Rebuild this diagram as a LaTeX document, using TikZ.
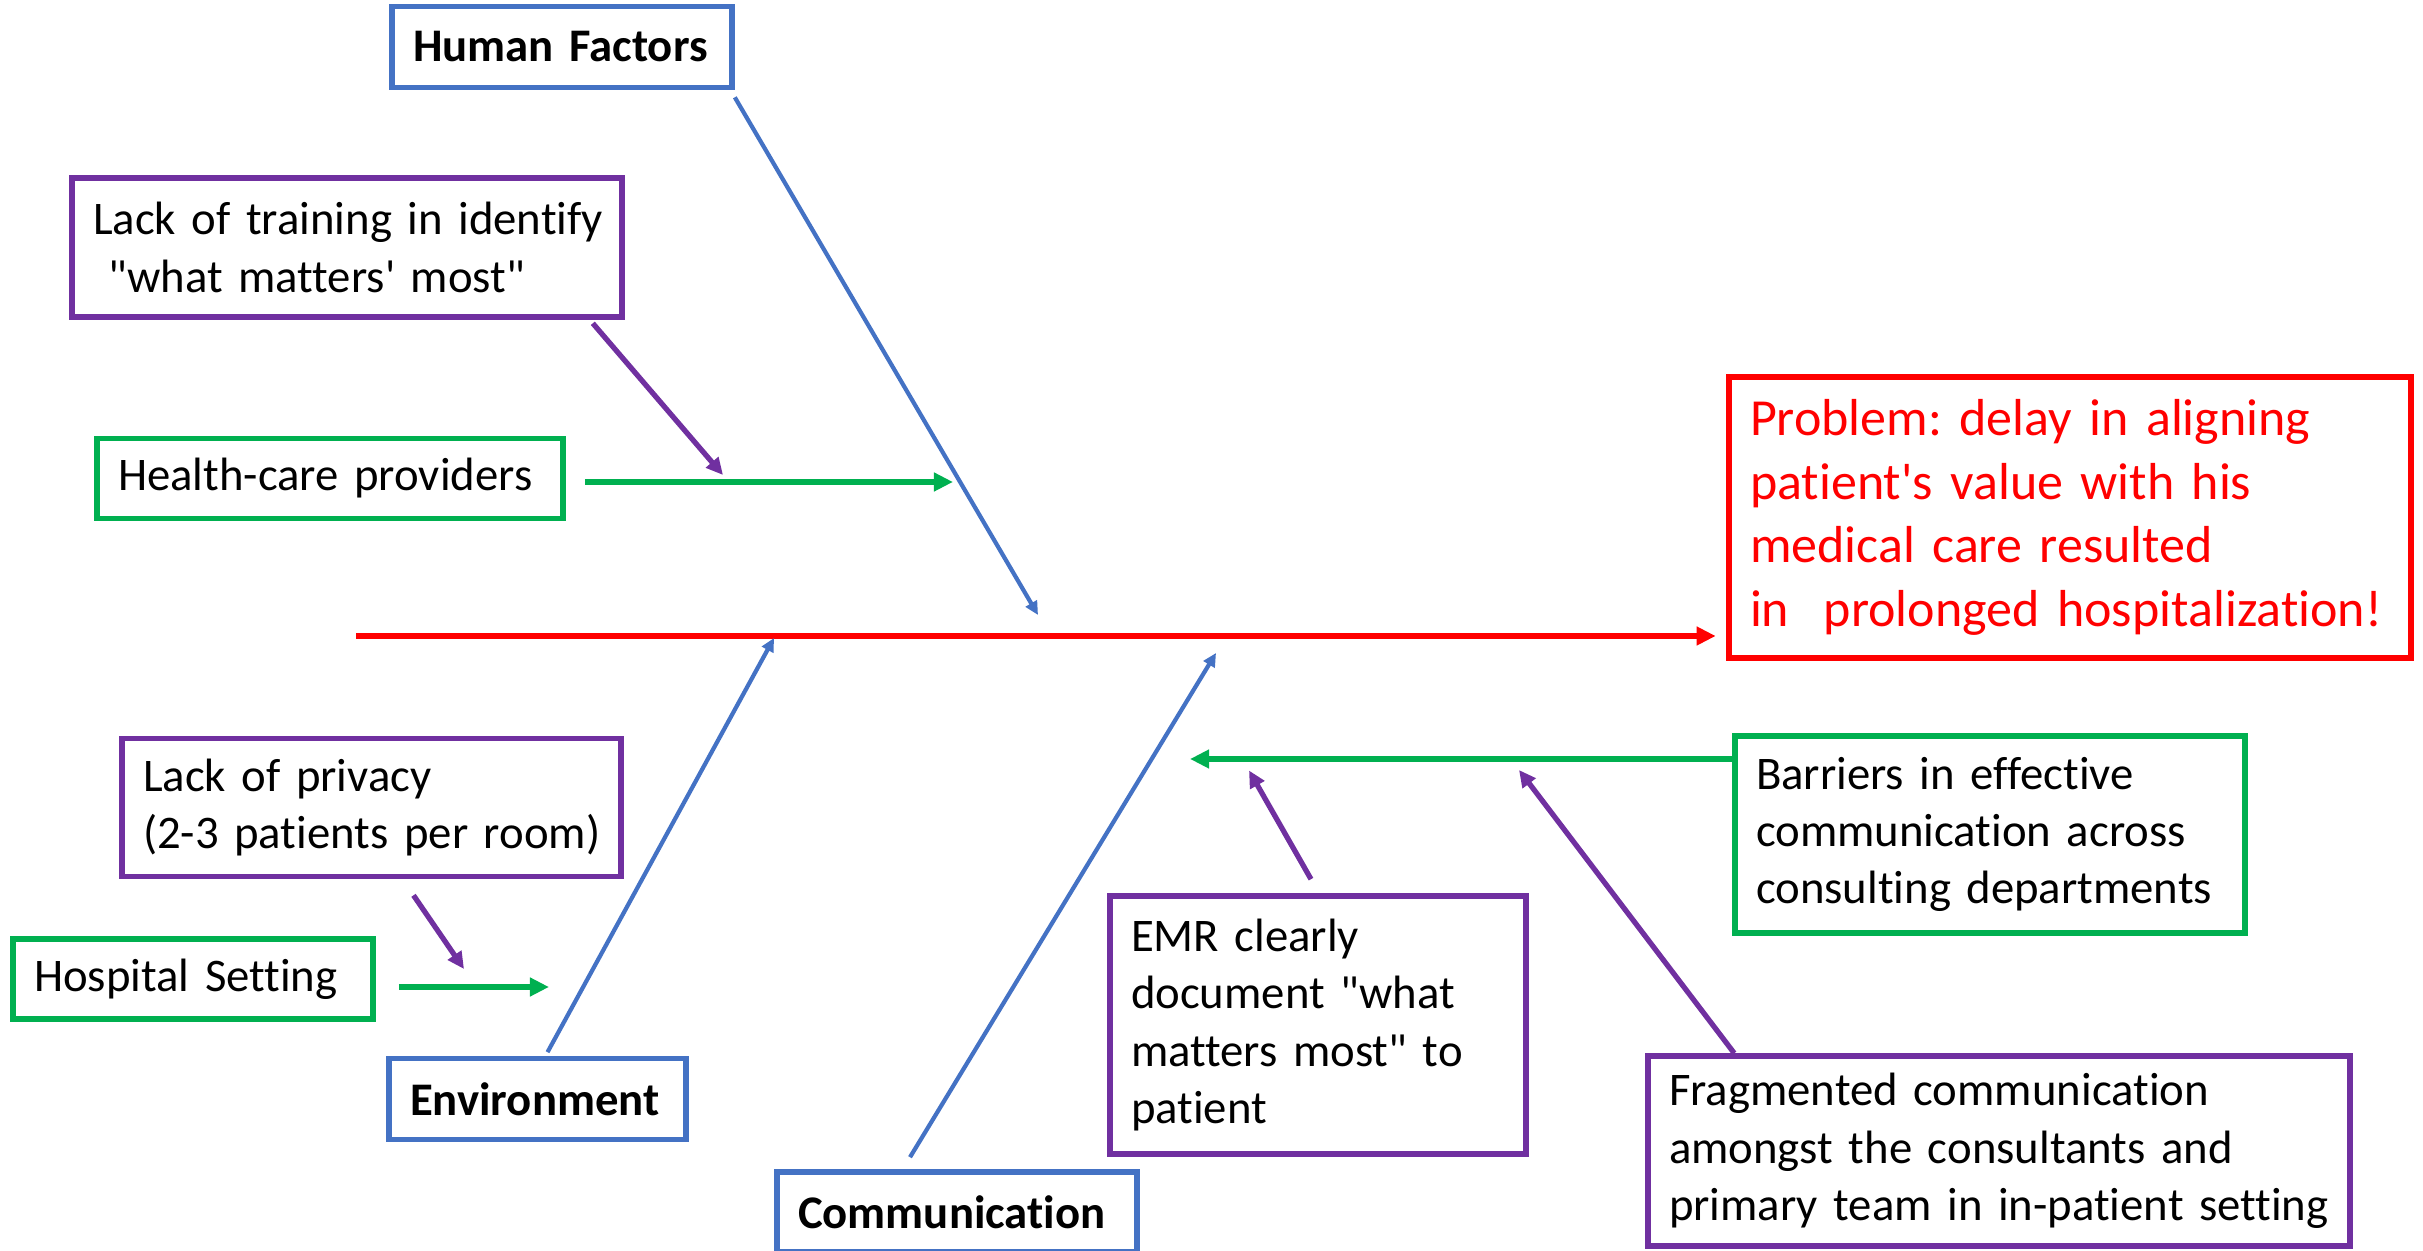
\documentclass[tikz,border=0pt]{standalone}
\usepackage{fontspec}
\setmainfont{Carlito}[Ligatures={TeXOff,NoCommon}]
\usepackage{tikz}
\usetikzlibrary{arrows.meta}
\frenchspacing
\definecolor{oblue}{RGB}{68,114,196}
\definecolor{ogreen}{RGB}{0,176,80}
\definecolor{opurple}{RGB}{112,48,160}
\definecolor{ored}{RGB}{255,0,0}
\tikzset{
  cbox/.style={draw,line width=1.6pt,inner xsep=0.21cm,inner ysep=0pt,align=left,
    font=\fontsize{13.3}{16.3}\selectfont,
    execute at begin node={\rightskip=0pt plus 1fil minus 1cm\hyphenpenalty=10000}},
  catbox/.style={cbox,draw=oblue,font=\fontsize{13.3}{16.3}\selectfont\bfseries},
  causebox/.style={cbox,draw=ogreen},
  subbox/.style={cbox,draw=opurple},
  bone/.style={draw=oblue,line width=1.2pt},
  garrow/.style={draw=ogreen,line width=1.7pt},
  parrow/.style={draw=opurple,line width=1.5pt},
}
\begin{document}
\begin{tikzpicture}[>={Triangle[length=0pt 3.2,width=0pt 3]}]
\useasboundingbox (0,0) rectangle (24.23,12.5);
% head of the fish
\node[cbox,draw=ored,line width=1.9pt,text=ored,font=\fontsize{14.8}{18.1}\selectfont,
  text width=6.40cm,minimum height=2.81cm] (prob) at (20.70,7.325)
  {Problem: delay in aligning\\patient's value with his\\medical care resulted\\in\ \ prolonged hospitalization!};
% categories
\node[catbox,text width=2.98cm,minimum height=0.81cm] (hf) at (5.62,12.03) {Human Factors};
\node[catbox,text width=2.55cm,minimum height=0.81cm] (env) at (5.375,1.51) {Environment};
\node[catbox,text width=3.18cm,minimum height=0.80cm] (com) at (9.57,0.38) {Communication};
% causes
\node[causebox,text width=4.24cm,minimum height=0.80cm] (hc) at (3.30,7.715) {Health-care providers};
\node[causebox,text width=3.18cm,minimum height=0.80cm] (hs) at (1.93,2.71) {Hospital Setting};
\node[causebox,text width=4.68cm,minimum height=1.97cm] (bar) at (19.90,4.155)
  {Barriers in effective\\communication across\\consulting departments};
% sub-causes
\node[subbox,text width=5.08cm,minimum height=1.39cm] (lt) at (3.47,10.025)
  {Lack of training in identify\\\ "what matters' most"};
\node[subbox,text width=4.57cm,minimum height=1.38cm] (lp) at (3.715,4.425)
  {Lack of privacy\\(2-3 patients per room)};
\node[subbox,text width=3.74cm,minimum height=2.58cm] (emr) at (13.18,2.25)
  {EMR clearly\\document "what\\matters most" to\\patient};
\node[subbox,text width=6.60cm,minimum height=1.90cm] (frag) at (19.99,0.99)
  {Fragmented communication\\amongst the consultants and\\primary team in in-patient setting};
% free ends
\coordinate (tail) at (3.56,6.14);
\coordinate (hfend) at (10.38,6.35);
\coordinate (envend) at (7.74,6.12);
\coordinate (comend) at (12.16,5.97);
\coordinate (hcend) at (9.53,7.68);
\coordinate (hsend) at (5.49,2.63);
\coordinate (barend) at (11.90,4.91);
\coordinate (ltend) at (7.23,7.75);
\coordinate (lpend) at (4.64,2.81);
\coordinate (emrend) at (12.49,4.795);
\coordinate (fragend) at (15.19,4.80);
% spine
\draw[->,draw=ored,line width=1.7pt,shorten >=0.1cm] (tail) -- (prob.west |- tail);
% bones
\draw[->,bone] ([yshift=-2pt]hf.south east) -- (hfend);
\draw[->,bone] ([xshift=0.1cm,yshift=1pt]env.north) -- (envend);
\draw[->,bone] ([xshift=-0.47cm,yshift=0.12cm]com.north) -- (comend);
% causes
\draw[->,garrow,shorten <=0.19cm] (hc.east |- hcend) -- (hcend);
\draw[->,garrow,shorten <=0.23cm] (hs.east |- hsend) -- (hsend);
\draw[->,garrow] (bar.west |- barend) -- (barend);
% sub-causes
\draw[->,parrow] ([xshift=-0.32cm,yshift=-1pt]lt.south east) -- (ltend);
\draw[->,parrow] ([xshift=0.42cm,yshift=-0.16cm]lp.south) -- (lpend);
\draw[->,parrow] ([xshift=-0.07cm,yshift=0.14cm]emr.north) -- (emrend);
\draw[->,parrow] ([xshift=0.89cm]frag.north west) -- (fragend);
\end{tikzpicture}
\end{document}
